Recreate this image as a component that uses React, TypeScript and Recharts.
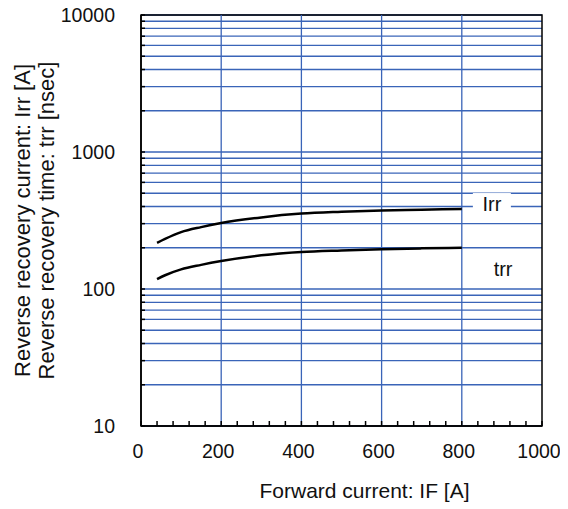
import React from "react";
import {
  LineChart,
  Line,
  XAxis,
  YAxis,
  CartesianGrid,
  ReferenceLine,
  ReferenceArea,
  ReferenceDot,
} from "recharts";

// forward current IF [A]
const forwardCurrent = [40, 60, 100, 150, 200, 300, 400, 500, 600, 700, 800];
// reverse recovery current Irr [A]
const irrValues = [217, 232, 260, 283, 303, 333, 355, 366, 374, 379, 384];
// reverse recovery time trr [nsec]
const trrValues = [118, 126, 139, 150, 160, 176, 186, 191, 195, 198, 200];

const yTicks = [
  10, 20, 30, 40, 50, 60, 70, 80, 90,
  100, 200, 300, 400, 500, 600, 700, 800, 900,
  1000, 2000, 3000, 4000, 5000, 6000, 7000, 8000, 9000,
  10000,
];
const yLabels = [10, 100, 1000, 10000];
const xTicks = [
  0, 40, 80, 120, 160, 200, 240, 280, 320, 360, 400, 440, 480, 520, 560, 600,
  640, 680, 720, 760, 800, 840, 880, 920, 960, 1000,
];
const xLabels = [0, 200, 400, 600, 800, 1000];
const xGrid = [200, 400, 600, 800];

const seriesNames = ["Irr", "trr"];
const seriesLabelX = [875, 903];
const seriesLabelY = [417, 140];

const data = forwardCurrent.map((f, i) => ({
  f,
  irr: irrValues[i],
  trr: trrValues[i],
}));

const FONT = "'Liberation Sans', Arial, sans-serif";
const GRID = "#3a64b8";

const YTick = (props: any) => {
  const { x, y, payload } = props;
  return (
    <g>
      <line x1={x + 26} x2={x + 30} y1={y} y2={y} stroke="#000" strokeWidth={1.5} />
      {yLabels.includes(payload.value) && (
        <text
          x={x}
          y={y}
          textAnchor="end"
          dominantBaseline="central"
          fontSize={19.5}
          fontFamily={FONT}
          fill="#111"
        >
          {payload.value}
        </text>
      )}
    </g>
  );
};

const XTick = (props: any) => {
  const { x, y, payload } = props;
  return (
    <g>
      <line x1={x} x2={x} y1={y} y2={y - 5} stroke="#000" strokeWidth={1.5} />
      {xLabels.includes(payload.value) && (
        <text
          x={x - 3}
          y={y + 32}
          textAnchor="middle"
          fontSize={19.5}
          fontFamily={FONT}
          fill="#111"
        >
          {payload.value}
        </text>
      )}
    </g>
  );
};

const SeriesTag = (w: number, h: number, name: string) => (props: any) => {
  const { cx, cy } = props;
  return (
    <g>
      <rect x={cx - w / 2} y={cy - h / 2} width={w} height={h} fill="#fff" />
      <text
        x={cx}
        y={cy}
        textAnchor="middle"
        dominantBaseline="central"
        fontSize={20}
        fontFamily={FONT}
        fill="#111"
      >
        {name}
      </text>
    </g>
  );
};

export default function App() {
  return (
    <div style={{ margin: "-8px 0 0 -8px" }}>
      <LineChart
        width={568}
        height={509}
        data={data}
        margin={{ top: 15, right: 26, bottom: 0, left: 0 }}
      >
        <CartesianGrid vertical={false} stroke={GRID} strokeWidth={1.3} />
        {xGrid.map((v) => (
          <ReferenceLine key={v} x={v} stroke={GRID} strokeWidth={1.3} />
        ))}
        <XAxis
          dataKey="f"
          type="number"
          domain={[0, 1000]}
          ticks={xTicks}
          interval={0}
          tickSize={0}
          tickMargin={0}
          tick={<XTick />}
          axisLine={{ stroke: "#000", strokeWidth: 1.5 }}
          height={83}
          label={{
            content: (p: any) => {
              const vb = p.viewBox;
              return (
                <text
                  x={vb.x + vb.width / 2 + 23}
                  y={vb.y + 72}
                  textAnchor="middle"
                  fontSize={21}
                  fontFamily={FONT}
                  fill="#111"
                >
                  Forward current: IF [A]
                </text>
              );
            },
          }}
        />
        <YAxis
          type="number"
          scale="log"
          domain={[10, 10000]}
          allowDataOverflow
          ticks={yTicks}
          interval={0}
          tickSize={0}
          tickMargin={26}
          tick={<YTick />}
          axisLine={{ stroke: "#000", strokeWidth: 1.5 }}
          width={141}
          label={{
            content: (p: any) => {
              const vb = p.viewBox;
              const cy = vb.y + vb.height / 2;
              return (
                <g fontSize={22} fontFamily={FONT} fill="#111">
                  <text
                    x={22}
                    y={cy}
                    transform={`rotate(-90, 22, ${cy})`}
                    textAnchor="middle"
                    dominantBaseline="central"
                  >
                    Reverse recovery current: Irr [A]
                  </text>
                  <text
                    x={46}
                    y={cy}
                    transform={`rotate(-90, 46, ${cy})`}
                    textAnchor="middle"
                    dominantBaseline="central"
                  >
                    Reverse recovery time: trr [nsec]
                  </text>
                </g>
              );
            },
          }}
        />
        <ReferenceArea
          x1={0}
          x2={1000}
          y1={10}
          y2={10000}
          fill="none"
          fillOpacity={0}
          stroke="#000"
          strokeWidth={1.5}
        />
        <Line
          dataKey="irr"
          type="monotone"
          stroke="#000"
          strokeWidth={2.5}
          dot={false}
          isAnimationActive={false}
        />
        <Line
          dataKey="trr"
          type="monotone"
          stroke="#000"
          strokeWidth={2.5}
          dot={false}
          isAnimationActive={false}
        />
        <ReferenceDot
          x={seriesLabelX[0]}
          y={seriesLabelY[0]}
          shape={SeriesTag(38, 22, seriesNames[0])}
        />
        <ReferenceDot
          x={seriesLabelX[1]}
          y={seriesLabelY[1]}
          shape={SeriesTag(52, 38, seriesNames[1])}
        />
      </LineChart>
    </div>
  );
}
